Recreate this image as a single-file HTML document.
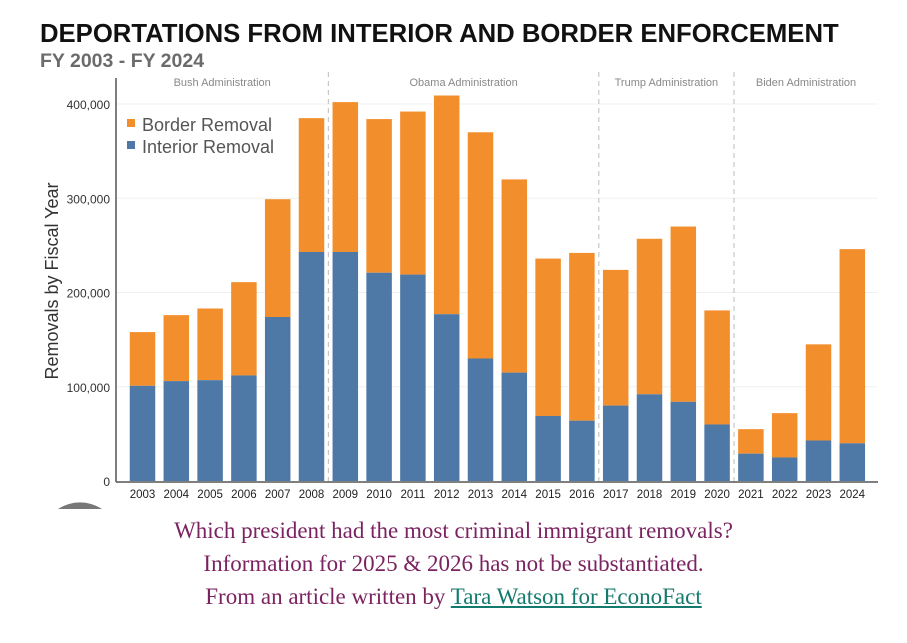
<!DOCTYPE html>
<html><head><meta charset="utf-8">
<style>
body{margin:0;width:907px;height:643px;background:#fff;overflow:hidden;position:relative;font-family:"Liberation Sans",Arial,sans-serif}
.cap{position:absolute;left:0;width:907px;text-align:center;font-family:"Liberation Serif",serif;font-size:23px;color:#7b2360}
.cap a{color:#147a6e;text-decoration:underline}
</style></head><body>
<svg width="907" height="643" style="position:absolute;left:0;top:0">
<text x="40" y="42" font-size="25.7" font-weight="bold" fill="#111">DEPORTATIONS FROM INTERIOR AND BORDER ENFORCEMENT</text>
<text x="40" y="67" font-size="19.5" font-weight="bold" fill="#6b6b6b">FY 2003 - FY 2024</text>
<g id="plot"></g>
<text transform="translate(58,281) rotate(-90)" text-anchor="middle" font-size="18" fill="#333">Removals by Fiscal Year</text>
<g>
<rect x="127" y="119" width="8" height="8" fill="#f28e2b"/><text x="142" y="131" font-size="18" fill="#555">Border Removal</text>
<rect x="127" y="141" width="8" height="8" fill="#4e79a7"/><text x="142" y="153" font-size="18" fill="#555">Interior Removal</text>
</g>
<path d="M58,509 A40,40 0 0 1 102,509 Z" fill="#777"/>
</svg>
<div class="cap" style="top:518px">Which president had the most criminal immigrant removals?</div>
<div class="cap" style="top:551px">Information for 2025 &amp; 2026 has not be substantiated.</div>
<div class="cap" style="top:584px">From an article written by <a href="#">Tara Watson for EconoFact</a></div>
<script>
const years=['2003','2004','2005','2006','2007','2008','2009','2010','2011','2012','2013','2014','2015','2016','2017','2018','2019','2020','2021','2022','2023','2024'];
const interior=[101,106,107,112,174,243,243,221,219,177,130,115,69,64,80,92,84,60,29,25,43,40];
const totals=[158,176,183,211,299,385,402,384,392,409,370,320,236,242,224,257,270,181,55,72,145,246];
const yTicks=[0,100,200,300,400];
const admins=['Bush Administration','Obama Administration','Trump Administration','Biden Administration'];
const adminStart=[0,6,14,18];
const NS='http://www.w3.org/2000/svg';
const g=document.getElementById('plot');
const y=v=>481-v*0.9425;
const xc=i=>142.5+i*33.8;
const left=116,right=878,bw=25.5;
function mk(t,a){const e=document.createElementNS(NS,t);for(const k in a)e.setAttribute(k,a[k]);g.appendChild(e);return e;}
yTicks.forEach(t=>{
  if(t>0){const l=mk('line',{x1:left,x2:right,y1:y(t),y2:y(t),stroke:'#f0f0f0'});
  
  }
  const tx=mk('text',{x:110,y:y(t)+5,'text-anchor':'end','font-size':12,fill:'#333'});
  tx.textContent=t===0?'0':t+',000';
  
  
});
years.forEach((yr,i)=>{
  const b=mk('rect',{x:xc(i)-bw/2,y:y(totals[i]),width:bw,height:y(interior[i])-y(totals[i]),fill:'#f28e2b'});
  
  
  const r=mk('rect',{x:xc(i)-bw/2,y:y(interior[i]),width:bw,height:y(0)-y(interior[i]),fill:'#4e79a7'});
  
  
  const t=mk('text',{x:xc(i),y:498,'text-anchor':'middle','font-size':11.5,fill:'#222'});
  t.textContent=yr;
  
  
});
admins.forEach((a,k)=>{
  const s=adminStart[k], e=k<admins.length-1?adminStart[k+1]:years.length;
  const x0=s===0?left:xc(s)-16.9, x1=k<admins.length-1?xc(e)-16.9:right;
  if(s>0){const d=mk('line',{x1:x0,x2:x0,y1:72,y2:482,stroke:'#c8c8c8','stroke-dasharray':'5,4','stroke-width':1.2});
  
  }
  const t=mk('text',{x:(x0+x1)/2,y:86,'text-anchor':'middle','font-size':11,fill:'#888'});
  t.textContent=a;
  
  
});
const ax=mk('line',{x1:left,x2:left,y1:78,y2:482,stroke:'#555','stroke-width':1.5});


const bx=mk('line',{x1:left,x2:right,y1:482,y2:482,stroke:'#555','stroke-width':1.5});


</script>
</body></html>
